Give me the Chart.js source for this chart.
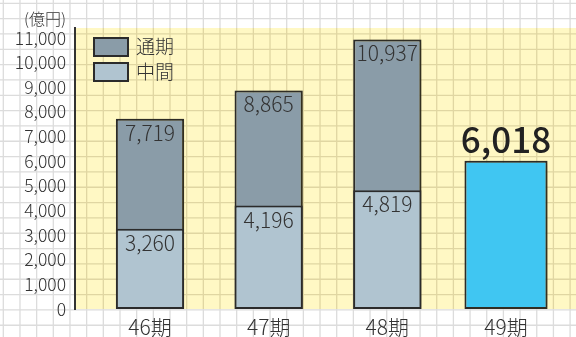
<!DOCTYPE html>
<html lang="ja">
<head>
<meta charset="utf-8">
<script src="https://cdn.jsdelivr.net/npm/chart.js@4/dist/chart.umd.min.js"></script>
<style>
  html, body { margin: 0; padding: 0; background: #fff; }
</style>
</head>
<body>
<canvas id="salesChart" width="576" height="337"></canvas>
<script>
// 期別売上高（億円）
const periods = ['46期', '47期', '48期', '49期'];
const fullYear = [7719, 8865, 10937];   // 通期
const interim = [3260, 4196, 4819];     // 中間
const latest = [6018];                  // 49期 中間
const yTicks = [0, 1000, 2000, 3000, 4000, 5000, 6000, 7000, 8000, 9000, 10000, 11000];

const FONT = "'Noto Sans CJK JP', 'Noto Sans', sans-serif";
const fmt = v => v.toLocaleString('en-US');

// graph-paper background, gray outside and tan on the plot area
function gridLines(ctx, x0, y0, x1, y1, color) {
  ctx.beginPath();
  for (let x = 3.3; x < x1; x += 16.67) {
    if (x < x0) continue;
    ctx.moveTo(x, y0); ctx.lineTo(x, y1);
  }
  for (let y = 3.3; y < y1; y += 15.33) {
    if (y < y0) continue;
    ctx.moveTo(x0, y); ctx.lineTo(x1, y);
  }
  ctx.strokeStyle = color;
  ctx.lineWidth = 1.3;
  ctx.stroke();
}

const paper = {
  id: 'paper',
  beforeDraw(chart) {
    const { ctx, width, height, chartArea: a } = chart;
    ctx.save();
    ctx.fillStyle = '#fff';
    ctx.fillRect(0, 0, width, height);
    gridLines(ctx, 0, 0, width, height, '#dcdcdc');
    ctx.fillStyle = '#fff8c4';
    ctx.fillRect(a.left, a.top, a.right - a.left, a.bottom - a.top);
    gridLines(ctx, a.left, a.top, a.right, a.bottom, '#e0d6a2');
    ctx.restore();
  }
};

// soft drop shadow behind the outer bars
const barShadow = {
  id: 'barShadow',
  beforeDatasetDraw(chart, args) {
    if (args.index === 1) return;
    const ctx = chart.ctx;
    ctx.save();
    ctx.shadowColor = 'rgba(70, 60, 10, 0.45)';
    ctx.shadowBlur = 9;
    ctx.shadowOffsetX = 5;
    ctx.shadowOffsetY = 1;
  },
  afterDatasetDraw(chart, args) {
    if (args.index === 1) return;
    chart.ctx.restore();
  }
};

const valueLabels = {
  id: 'valueLabels',
  afterDatasetsDraw(chart) {
    const ctx = chart.ctx;
    ctx.save();
    ctx.textAlign = 'center';
    ctx.textBaseline = 'middle';
    chart.data.datasets.forEach((ds, di) => {
      chart.getDatasetMeta(di).data.forEach((bar, i) => {
        const txt = fmt(ds.data[i].y);
        if (di === 2) {
          ctx.font = '500 35px ' + FONT;
          ctx.fillStyle = '#222';
          ctx.fillText(txt, bar.x, bar.y - 21);
        } else {
          ctx.font = '300 21px ' + FONT;
          ctx.fillStyle = '#333';
          ctx.fillText(txt, bar.x, bar.y + 14);
        }
      });
    });
    ctx.restore();
  }
};

// legend boxes inside the plot, plus the unit caption
const insideLegend = {
  id: 'insideLegend',
  afterDraw(chart) {
    const { ctx, chartArea: a } = chart;
    ctx.save();
    ctx.font = '300 19px ' + FONT;
    ctx.textBaseline = 'middle';
    ctx.textAlign = 'left';
    chart.data.datasets.slice(0, 2).forEach((ds, i) => {
      const x = a.left + 19, y = a.top + 10 + i * 25;
      ctx.fillStyle = ds.backgroundColor;
      ctx.fillRect(x, y, 34, 18);
      ctx.strokeStyle = '#2b2b2b';
      ctx.lineWidth = 2;
      ctx.strokeRect(x, y, 34, 18);
      ctx.fillStyle = '#333';
      ctx.fillText(ds.label, x + 42, y + 9);
    });
    ctx.font = '300 16px ' + FONT;
    ctx.textAlign = 'right';
    ctx.fillText('(億円)', 66, 19);
    ctx.restore();
  }
};

const barBase = {
  borderColor: '#2b2b2b',
  borderWidth: 2,
  borderSkipped: false,
  grouped: false,
  categoryPercentage: 1,
  barPercentage: 0.575
};

new Chart(document.getElementById('salesChart'), {
  type: 'bar',
  data: {
    datasets: [
      { ...barBase, label: '通期', data: fullYear.map((v, i) => ({ x: i, y: v })), backgroundColor: '#8a9ca8', order: 2 },
      { ...barBase, label: '中間', data: interim.map((v, i) => ({ x: i, y: v })), backgroundColor: '#b0c4d0', order: 1 },
      { ...barBase, label: '49期', data: latest.map(v => ({ x: 3, y: v })), backgroundColor: '#40c6f2', barPercentage: 0.7, order: 1 }
    ]
  },
  options: {
    responsive: false,
    animation: false,
    layout: { padding: { top: 28, left: 0, right: 0, bottom: 0 } },
    plugins: { legend: { display: false }, tooltip: { enabled: false } },
    scales: {
      x: {
        type: 'linear',
        offset: false,
        min: -0.632,
        max: 3.59,
        grid: { display: false, drawTicks: false },
        border: { display: false },
        afterBuildTicks: s => { s.ticks = periods.map((p, i) => ({ value: i })); },
        afterFit: s => { s.height = 28; },
        ticks: {
          padding: 5,
          color: '#333',
          maxRotation: 0,
          font: { family: FONT, size: 21, weight: '300' },
          callback: v => periods[v]
        }
      },
      y: {
        min: 0,
        max: 11400,
        grid: { display: false, drawTicks: false },
        border: { display: true, color: '#333', width: 2 },
        afterFit: s => { s.width = 75; },
        afterBuildTicks: s => { s.ticks = yTicks.map(v => ({ value: v })); },
        ticks: {
          padding: 9,
          color: '#333',
          font: { family: FONT, size: 17.5, weight: '300' },
          callback: v => fmt(v)
        }
      }
    }
  },
  plugins: [paper, barShadow, valueLabels, insideLegend]
});
</script>
</body>
</html>
